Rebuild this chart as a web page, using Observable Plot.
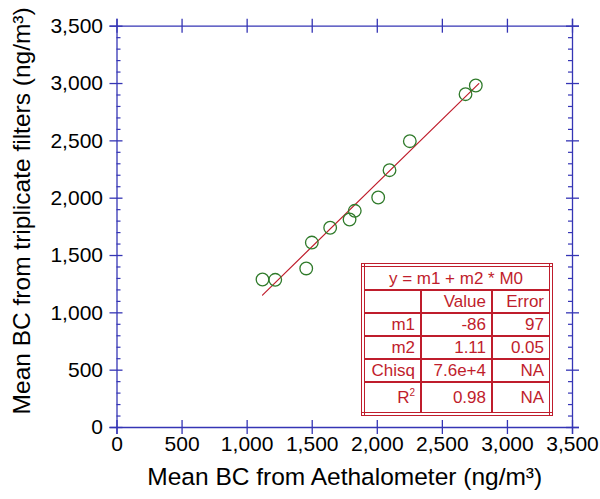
<!DOCTYPE html>
<html>
<head>
<meta charset="utf-8">
<script src="https://cdn.jsdelivr.net/npm/d3@7"></script>
<script src="https://cdn.jsdelivr.net/npm/@observablehq/plot@0.6"></script>
<style>
  body { margin: 0; background: #fff; }
  #wrap { position: relative; width: 600px; height: 499px; }
  table.fit {
    position: absolute; left: 361px; top: 263px;
    border-collapse: collapse; table-layout: fixed;
    border: 4px double #bf1d2c; background: #fff;
    font-family: "Liberation Sans", Arial, sans-serif; font-size: 17px; color: #bf1d2c;
  }
  table.fit td { border: 2px solid #bf1d2c; padding: 0 5px 0 3px; text-align: right; height: 21px; line-height: 21px; white-space: nowrap; }
  table.fit td.title { text-align: center; height: 22px; }
  table.fit tr.r2 td { height: 29px; }
  table.fit sup { font-size: 10px; line-height: 0; }
</style>
</head>
<body>
<div id="wrap"></div>
<script>
// ---- data ----
const aethalometer = [1118, 1216, 1454, 1497, 1638, 1787, 1827, 2007, 2094, 2250, 2678, 2757];
const filters      = [1291, 1288, 1387, 1613, 1742, 1814, 1890, 2006, 2244, 2497, 2907, 2983];
const fitX = [1118, 2780];
const fitY = [1155, 2999];
const xTicks = [0, 500, 1000, 1500, 2000, 2500, 3000, 3500];
const yTicks = [0, 500, 1000, 1500, 2000, 2500, 3000, 3500];
const yMinor = d3.range(0, 3501, 100).filter(d => d % 500 !== 0);
const xLabel = "Mean BC from Aethalometer (ng/m³)";
const yLabel = "Mean BC from triplicate filters (ng/m³)";
const fitTitle = "y = m1 + m2 * M0";
const fitHeader = ["", "Value", "Error"];
const fitRows = [
  ["m1", "-86", "97"],
  ["m2", "1.11", "0.05"],
  ["Chisq", "7.6e+4", "NA"],
  ["R<sup>2</sup>", "0.98", "NA"]
];

const points = aethalometer.map((x, i) => ({x, y: filters[i]}));
const fit = fitX.map((x, i) => ({x, y: fitY[i]}));

const blue = "#3535b5";
const red = "#bf1d2c";
const green = "#2f7a2a";
const font = "Liberation Sans, Arial, Helvetica, sans-serif";
const fmt = d3.format(",");

const chart = Plot.plot({
  width: 600, height: 499,
  marginLeft: 116.5, marginRight: 28, marginTop: 25.7, marginBottom: 72,
  x: {domain: [0, 3500]},
  y: {domain: [0, 3500]},
  style: {fontFamily: font, background: "#fff", color: "#000"},
  marks: [
    // frame lines
    Plot.ruleY([0, 3500], {stroke: blue, strokeWidth: 1.3, insetLeft: -7, insetRight: -7}),
    Plot.ruleX([0, 3500], {stroke: blue, strokeWidth: 1.3, insetTop: -7, insetBottom: -7}),
    // major ticks crossing bottom/top
    Plot.ruleX(xTicks, {x: d => d, y1: 0, y2: 0, stroke: blue, strokeWidth: 1.3, insetTop: -7, insetBottom: -7}),
    Plot.ruleX(xTicks, {x: d => d, y1: 3500, y2: 3500, stroke: blue, strokeWidth: 1.3, insetTop: -7, insetBottom: -7}),
    // major ticks crossing left/right
    Plot.ruleY(yTicks, {y: d => d, x1: 0, x2: 0, stroke: blue, strokeWidth: 1.3, insetLeft: -7, insetRight: -6}),
    Plot.ruleY(yTicks, {y: d => d, x1: 3500, x2: 3500, stroke: blue, strokeWidth: 1.3, insetLeft: -6, insetRight: -7}),
    // minor ticks inward
    Plot.ruleY(yMinor, {y: d => d, x1: 0, x2: 0, stroke: blue, strokeWidth: 1.2, insetLeft: 0, insetRight: -4}),
    Plot.ruleY(yMinor, {y: d => d, x1: 3500, x2: 3500, stroke: blue, strokeWidth: 1.2, insetLeft: -4, insetRight: 0}),
    // tick labels
    Plot.axisX({anchor: "bottom", ticks: xTicks, tickSize: 0, tickPadding: 9, tickFormat: fmt, fontSize: 21, label: null}),
    Plot.axisY({anchor: "left", ticks: yTicks, tickSize: 0, tickPadding: 14, tickFormat: fmt, fontSize: 21, label: null}),
    // axis titles
    Plot.text([xLabel], {text: d => d, frameAnchor: "bottom", dy: 57, fontSize: 24.5, fill: "#000"}),
    Plot.text([yLabel], {text: d => d, frameAnchor: "left", textAnchor: "middle", dx: -95, dy: -16, rotate: -90, fontSize: 24.5, fill: "#000"}),
    // fit line and data
    Plot.line(fit, {x: "x", y: "y", stroke: red, strokeWidth: 1.2}),
    Plot.dot(points, {x: "x", y: "y", r: 6.3, stroke: green, strokeWidth: 1.3, fill: "none"})
  ]
});
const wrap = document.getElementById("wrap");
wrap.appendChild(chart);

// fit results table
const table = document.createElement("table");
table.className = "fit";
const colgroup = document.createElement("colgroup");
[58, 71, 59].forEach(w => { const c = document.createElement("col"); c.style.width = w + "px"; colgroup.appendChild(c); });
table.appendChild(colgroup);
let tr = document.createElement("tr");
let td = document.createElement("td"); td.colSpan = 3; td.className = "title"; td.textContent = fitTitle; tr.appendChild(td);
table.appendChild(tr);
tr = document.createElement("tr");
fitHeader.forEach(h => { const c = document.createElement("td"); c.textContent = h; tr.appendChild(c); });
table.appendChild(tr);
fitRows.forEach((row, i) => {
  const r = document.createElement("tr");
  if (i === fitRows.length - 1) r.className = "r2";
  row.forEach(v => { const c = document.createElement("td"); c.innerHTML = v; r.appendChild(c); });
  table.appendChild(r);
});
wrap.appendChild(table);
</script>
</body>
</html>
